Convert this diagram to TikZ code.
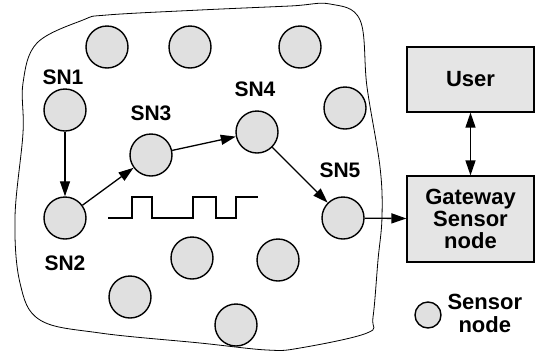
\documentclass[tikz,border=0pt]{standalone}
\usepackage{fontspec}
\setmainfont{Liberation Sans}
\usetikzlibrary{arrows.meta}
\begin{document}
\begin{tikzpicture}[x=1pt,y=-1pt,
  sn/.style={circle,draw=black,line width=1.4pt,fill=black!12,minimum size=42pt,inner sep=0pt},
  lbl/.style={font=\fontsize{21}{24}\selectfont\bfseries},
  box/.style={draw=black,line width=1.2pt,fill=black!10,minimum width=127pt,align=center,font=\fontsize{22}{27}\selectfont\bfseries},
  arr/.style={line width=1.3pt,-{Triangle[length=15pt,width=10pt]}},
  darr/.style={line width=1.3pt,{Triangle[length=15pt,width=10pt]}-{Triangle[length=15pt,width=10pt]}}]
\useasboundingbox (0,0) rectangle (535,354);
% blob outline
\draw[line width=0.8pt] plot[smooth cycle,tension=0.6] coordinates {
 (107,15) (200,10) (290,6) (330,4) (360,20) (367,87) (380,167) (382,217)
 (378,260) (373,317) (367,333) (300,348) (267,350) (200,343) (100,333)
 (40,320) (20,283) (15,217) (23,133) (23,83) (37,43) (83,20)};
% sensor nodes
\node[sn] (t1) at (107,47) {};
\node[sn] (t2) at (190,47) {};
\node[sn] (t3) at (300,47) {};
\node[sn] (r1) at (345,108) {};
\node[sn] (sn1) at (65,110) {};
\node[sn] (sn3) at (151,155) {};
\node[sn] (sn4) at (257,132) {};
\node[sn] (sn2) at (65,218) {};
\node[sn] (sn5) at (343,218) {};
\node[sn] (b1) at (192,258) {};
\node[sn] (b2) at (278,260) {};
\node[sn] (b3) at (130,297) {};
\node[sn] (b4) at (236,325) {};
% labels
\node[lbl] (l1) at (63,77) {SN1};
\node[lbl] (l3) at (151,113) {SN3};
\node[lbl] (l4) at (255,89) {SN4};
\node[lbl] (l5) at (340,170) {SN5};
\node[lbl] (l2) at (65,263) {SN2};
% square wave
\draw[line width=2pt] (108,218) -- (132,218) -- (132,197) -- (152,197) -- (152,218)
  -- (193,218) -- (193,197) -- (216,197) -- (216,218) -- (236,218) -- (236,197) -- (258,197);
% boxes
\node[box,minimum height=65pt] (user) at (470.5,79.5) {User};
\node[box,minimum height=86pt] (gw) at (470.5,219) {Gateway\\[-5pt]Sensor\\[-5pt]node};
% arrows
\draw[arr] (sn1) -- (sn2);
\draw[arr] (sn2) -- (sn3);
\draw[arr] (sn3) -- (sn4);
\draw[arr] (sn4) -- (sn5);
\draw[arr] (sn5) -- (gw);
\draw[darr] (user) -- (gw);
% legend
\node[sn,minimum size=26pt] (leg) at (428,315) {};
\node[align=center,anchor=west,font=\fontsize{22}{28}\selectfont\bfseries] (legt) at (444,313) {Sensor\\[-5pt]node};
\end{tikzpicture}
\end{document}
